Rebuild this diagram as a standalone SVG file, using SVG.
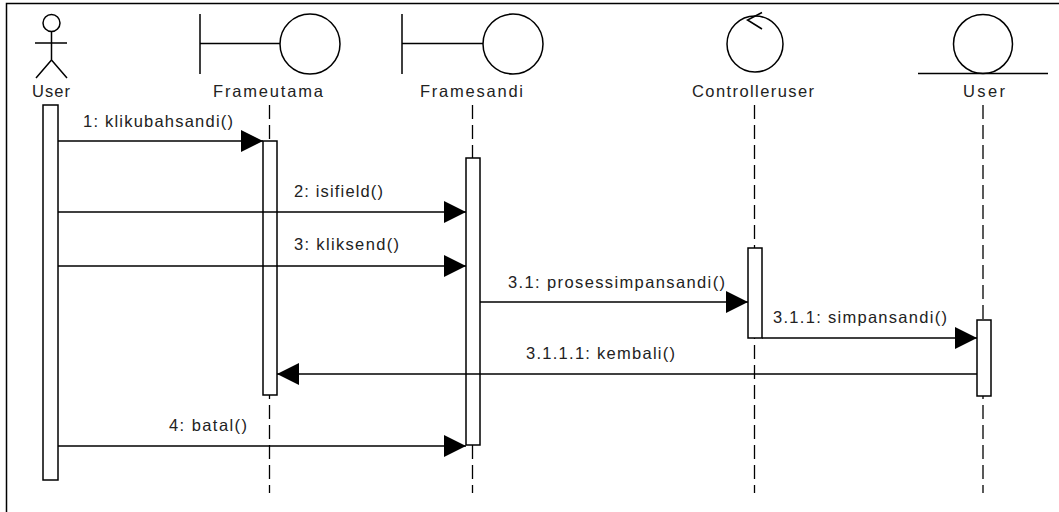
<svg xmlns="http://www.w3.org/2000/svg" width="1059" height="512" viewBox="0 0 1059 512">
<defs>
<style>
.ln{stroke:#000;stroke-width:1.5;fill:none}
.act{fill:#fff;stroke:#000;stroke-width:1.5}
.life{stroke:#000;stroke-width:1.3;stroke-dasharray:14,6;fill:none}
.msg{stroke:#000;stroke-width:1.6;fill:none;marker-end:url(#ah)}
text{font-family:"Liberation Sans",Arial,sans-serif;font-size:16.5px;fill:#222}
</style>
<marker id="ah" markerUnits="userSpaceOnUse" markerWidth="22" markerHeight="22" refX="22" refY="11" orient="auto" viewBox="0 0 22 22">
<path d="M0,0 L22,11 L0,22 Z" fill="#000"/>
</marker>
</defs>
<rect width="1059" height="512" fill="#fff"/>
<path class="ln" d="M6.5,512 V3.5 H1059" stroke-width="2"/>

<g id="actor-user">
<circle class="ln" cx="51.5" cy="23" r="8.5"/>
<path class="ln" d="M51.5,31.5 V60 M35,43 H67 M51.5,60 L36,78 M51.5,60 L67,78"/>
<text x="32" y="97" textLength="38" lengthAdjust="spacing">User</text>
<rect class="act" x="43" y="105" width="15" height="375"/>
</g>

<g id="frameutama">
<path class="ln" d="M200,14 V74 M200,43.5 H280"/>
<circle class="ln" cx="310" cy="44" r="30"/>
<text x="213" y="97" textLength="110" lengthAdjust="spacing">Frameutama</text>
<path class="life" d="M269.5,105 V493"/>
<rect class="act" x="263" y="141" width="14" height="254"/>
</g>

<g id="framesandi">
<path class="ln" d="M402,14 V74 M402,43.5 H483"/>
<circle class="ln" cx="513" cy="44" r="30"/>
<text x="420" y="97" textLength="103" lengthAdjust="spacing">Framesandi</text>
<path class="life" d="M472.5,105 V493"/>
<rect class="act" x="466" y="158" width="14" height="287"/>
</g>

<g id="controlleruser">
<circle class="ln" cx="755" cy="44" r="28"/>
<path class="ln" d="M762,12.5 L747.5,20 L762,29"/>
<text x="692" y="97" textLength="122" lengthAdjust="spacing">Controlleruser</text>
<path class="life" d="M754.5,105 V493"/>
<rect class="act" x="748" y="248" width="14" height="90"/>
</g>

<g id="entity-user">
<circle class="ln" cx="983" cy="44" r="29.5"/>
<path class="ln" d="M918,73.5 H1048"/>
<text x="963" y="97" textLength="42" lengthAdjust="spacing">User</text>
<path class="life" d="M983,105 V493"/>
<rect class="act" x="977" y="320" width="14" height="76"/>
</g>

<g id="connectors">
<path class="msg" d="M58,141 H263"/>
<text x="83" y="127" textLength="150" lengthAdjust="spacing">1: klikubahsandi()</text>
<path class="msg" d="M58,212 H466"/>
<text x="294" y="197" textLength="89" lengthAdjust="spacing">2: isifield()</text>
<path class="msg" d="M58,266 H466"/>
<text x="294" y="250" textLength="105" lengthAdjust="spacing">3: kliksend()</text>
<path class="msg" d="M480,302 H748"/>
<text x="508" y="288" textLength="217" lengthAdjust="spacing">3.1: prosessimpansandi()</text>
<path class="msg" d="M762,338 H977"/>
<text x="773" y="323" textLength="174" lengthAdjust="spacing">3.1.1: simpansandi()</text>
<path class="msg" d="M977,374 H277"/>
<text x="526" y="359" textLength="149" lengthAdjust="spacing">3.1.1.1: kembali()</text>
<path class="msg" d="M58,446 H466"/>
<text x="169" y="431" textLength="78" lengthAdjust="spacing">4: batal()</text>
</g>
</svg>
